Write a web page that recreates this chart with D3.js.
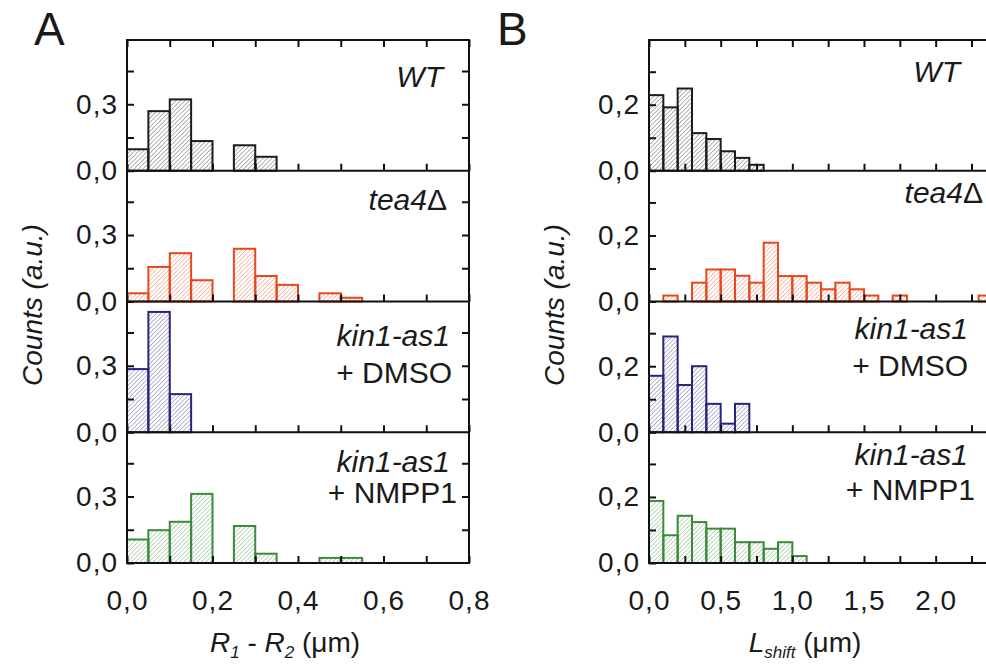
<!DOCTYPE html>
<html>
<head>
<meta charset="utf-8">
<script src="https://cdn.jsdelivr.net/npm/d3@7/dist/d3.min.js"></script>
<style>
  body { margin: 0; background: #fff; }
  svg { display: block; font-family: "Liberation Sans", Arial, sans-serif; }
</style>
</head>
<body>
<svg id="chart" width="986" height="666"></svg>
<script>
// ---- data ----
// panel A: R1 - R2 histogram, bin width 0.05 um
const binStartA = [0, 0.05, 0.1, 0.15, 0.2, 0.25, 0.3, 0.35, 0.4, 0.45, 0.5];
const binWidthA = 0.05;
const wtA   = [0.097, 0.269, 0.322, 0.134, 0, 0.115, 0.063, 0, 0, 0, 0];
const tea4A = [0.037, 0.156, 0.218, 0.096, 0, 0.238, 0.115, 0.075, 0, 0.037, 0.017];
const dmsoA = [0.285, 0.543, 0.172, 0, 0, 0, 0, 0, 0, 0, 0];
const nmppA = [0.106, 0.148, 0.186, 0.312, 0, 0.167, 0.042, 0, 0, 0.023, 0.023];

// panel B: L_shift histogram, bin width 0.1 um
const binStartB = [0, 0.1, 0.2, 0.3, 0.4, 0.5, 0.6, 0.7, 0.8, 0.9, 1.0, 1.1,
                   1.2, 1.3, 1.4, 1.5, 1.6, 1.7, 1.8, 1.9, 2.0, 2.1, 2.2, 2.3];
const binWidthB = 0.1;
const wtB   = [0.229, 0.192, 0.249, 0.114, 0.096, 0.059, 0.039, 0.018];
const tea4B = [0, 0.018, 0, 0.057, 0.097, 0.097, 0.078, 0.057, 0.178, 0.077, 0.077, 0.057,
               0.037, 0.057, 0.037, 0.018, 0, 0.018, 0, 0, 0, 0, 0, 0.018];
const dmsoB = [0.171, 0.29, 0.143, 0.2, 0.086, 0.026, 0.086];
const nmppB = [0.188, 0.084, 0.143, 0.124, 0.104, 0.104, 0.063, 0.063, 0.043, 0.063, 0.021];

const rowLabels = [
  [{ t: "WT", it: true }],
  [{ t: "tea4", it: true, sym: "Δ" }],
  [{ t: "kin1-as1", it: true }, { t: "+ DMSO", it: false }],
  [{ t: "kin1-as1", it: true }, { t: "+ NMPP1", it: false }]
];
const rowColors = ["#1c1c1c", "#e5481d", "#25257c", "#3b8a3b"];

const xTicksA = [0, 0.1, 0.2, 0.3, 0.4, 0.5, 0.6, 0.7, 0.8];
const xLabelsA = [0, 0.2, 0.4, 0.6, 0.8];
const yTicksA = [0, 0.15, 0.3, 0.45];
const yLabelsA = [0, 0.3];

const xTicksB = [0, 0.25, 0.5, 0.75, 1.0, 1.25, 1.5, 1.75, 2.0, 2.25];
const xLabelsB = [0, 0.5, 1.0, 1.5, 2.0];
const yTicksB = [0, 0.1, 0.2, 0.3];
const yLabelsB = [0, 0.2];

// ---- layout ----
const plotTop = 40, rowH = 130.75;
const svg = d3.select("#chart");
const fmt = d => d3.format(".1f")(d).replace(".", ",");

// hatch patterns
const defs = svg.append("defs");
rowColors.forEach((c, i) => {
  const p = defs.append("pattern")
    .attr("id", "hatch" + i)
    .attr("patternUnits", "userSpaceOnUse")
    .attr("width", 3.1).attr("height", 3.1)
    .attr("patternTransform", "rotate(45)");
  p.append("line")
    .attr("x1", 0).attr("y1", 0).attr("x2", 0).attr("y2", 3.1)
    .attr("stroke", c).attr("stroke-width", 0.9).attr("stroke-opacity", 0.75);
});

function drawPanel(opt) {
  const x = d3.scaleLinear().domain(opt.xDomain).range([opt.left, opt.right]);
  const g = svg.append("g");

  opt.series.forEach((vals, r) => {
    const y0 = plotTop + r * rowH;
    const y = d3.scaleLinear().domain([0, opt.yMax]).range([y0 + rowH, y0]);
    const bins = opt.binStart.map((s, i) => ({ s: s, v: vals[i] || 0 })).filter(d => d.v > 0);

    g.append("g").selectAll("rect")
      .data(bins)
      .enter()
      .append("rect")
      .attr("x", d => x(d.s))
      .attr("width", d => x(d.s + opt.binWidth) - x(d.s))
      .attr("y", d => y(d.v))
      .attr("height", d => y(0) - y(d.v))
      .attr("fill", "url(#hatch" + r + ")")
      .attr("stroke", rowColors[r])
      .attr("stroke-width", 2);

    // left axis with labels
    const ya = g.append("g")
      .attr("transform", "translate(" + opt.left + ",0)")
      .call(d3.axisLeft(y).tickValues(opt.yTicks).tickSize(-7).tickSizeOuter(0).tickPadding(9)
        .tickFormat(d => opt.yLabels.includes(d) ? fmt(d) : ""));
    // right axis ticks
    const yr = g.append("g")
      .attr("transform", "translate(" + opt.right + ",0)")
      .call(d3.axisRight(y).tickValues(opt.yTicks.filter(d => d > 0)).tickSize(-7).tickSizeOuter(0).tickFormat(""));
    // bottom axis of this row
    const last = r === opt.series.length - 1;
    const xa = g.append("g")
      .attr("transform", "translate(0," + (y0 + rowH) + ")")
      .call(d3.axisBottom(x).tickValues(opt.xTicks).tickSize(-7).tickSizeOuter(0).tickPadding(27)
        .tickFormat(d => last && opt.xLabels.includes(d) ? fmt(d) : ""));

    [ya, yr, xa].forEach(a => {
      a.select(".domain").remove();
      a.selectAll(".tick line").attr("stroke", "#111").attr("stroke-width", 2);
      a.selectAll(".tick text").attr("fill", "#1a1a1a").attr("font-size", 28)
        .attr("letter-spacing", 1).attr("font-family", "Liberation Sans, Arial, sans-serif");
    });

    // row label
    rowLabels[r].forEach((ln, k) => {
      const lay = opt.labelPos[r][k];
      const t = g.append("text")
        .attr("x", opt.right - lay[0])
        .attr("y", y0 + lay[1])
        .attr("text-anchor", "end")
        .attr("font-size", 30)
        .attr("fill", "#1a1a1a")
        .attr("font-style", ln.it ? "italic" : "normal")
        .text(ln.t);
      if (ln.sym) t.append("tspan").attr("font-style", "normal").text(ln.sym);
    });

    // separator / bottom line
    g.append("line")
      .attr("x1", opt.left).attr("x2", opt.right)
      .attr("y1", y0 + rowH).attr("y2", y0 + rowH)
      .attr("stroke", "#111").attr("stroke-width", 2);
  });

  // top ticks
  const ta = g.append("g")
    .attr("transform", "translate(0," + plotTop + ")")
    .call(d3.axisTop(x).tickValues(opt.xTicks).tickSize(-7).tickSizeOuter(0).tickFormat(""));
  ta.select(".domain").remove();
  ta.selectAll(".tick line").attr("stroke", "#111").attr("stroke-width", 2);

  // frame
  g.append("rect")
    .attr("x", opt.left).attr("y", plotTop)
    .attr("width", opt.right - opt.left).attr("height", rowH * opt.series.length)
    .attr("fill", "none").attr("stroke", "#111").attr("stroke-width", 2);

  // panel letter
  svg.append("text").attr("x", opt.letterX).attr("y", 45)
    .attr("font-size", 46).attr("fill", "#1a1a1a").text(opt.letter);

  // y title
  svg.append("text")
    .attr("transform", "translate(" + opt.yTitleX + ",305) rotate(-90)")
    .attr("text-anchor", "middle")
    .attr("font-size", 28).attr("font-style", "italic").attr("fill", "#1a1a1a")
    .text("Counts (a.u.)");

  // x title
  const xt = svg.append("text")
    .attr("x", opt.xTitleX).attr("y", 652)
    .attr("text-anchor", "middle")
    .attr("font-size", 28).attr("fill", "#1a1a1a");
  opt.xTitle(xt);
}

drawPanel({
  letter: "A", letterX: 34,
  left: 127, right: 469,
  xDomain: [0, 0.8], yMax: 0.59,
  binStart: binStartA, binWidth: binWidthA,
  series: [wtA, tea4A, dmsoA, nmppA],
  xTicks: xTicksA, xLabels: xLabelsA, yTicks: yTicksA, yLabels: yLabelsA,
  labelPos: [[[26, 47]], [[22, 39]], [[19, 44], [17, 81]], [[19, 40], [12, 71]]],
  yTitleX: 42, xTitleX: 285,
  xTitle: t => {
    t.append("tspan").attr("font-style", "italic").text("R");
    t.append("tspan").attr("font-style", "italic").attr("font-size", 17).attr("dy", 6).text("1");
    t.append("tspan").attr("dy", -6).text(" - ");
    t.append("tspan").attr("font-style", "italic").text("R");
    t.append("tspan").attr("font-style", "italic").attr("font-size", 17).attr("dy", 6).text("2");
    t.append("tspan").attr("dy", -6).text(" (μm)");
  }
});

drawPanel({
  letter: "B", letterX: 497,
  left: 649, right: 993,
  xDomain: [0, 2.4], yMax: 0.396,
  binStart: binStartB, binWidth: binWidthB,
  series: [wtB, tea4B, dmsoB, nmppB],
  xTicks: xTicksB, xLabels: xLabelsB, yTicks: yTicksB, yLabels: yLabelsB,
  labelPos: [[[33, 42]], [[10, 32]], [[25, 37], [25, 74]], [[25, 33], [18, 68]]],
  yTitleX: 564, xTitleX: 805,
  xTitle: t => {
    t.append("tspan").attr("font-style", "italic").text("L");
    t.append("tspan").attr("font-style", "italic").attr("font-size", 17).attr("dy", 6).text("shift");
    t.append("tspan").attr("dy", -6).text(" (μm)");
  }
});
</script>
</body>
</html>
